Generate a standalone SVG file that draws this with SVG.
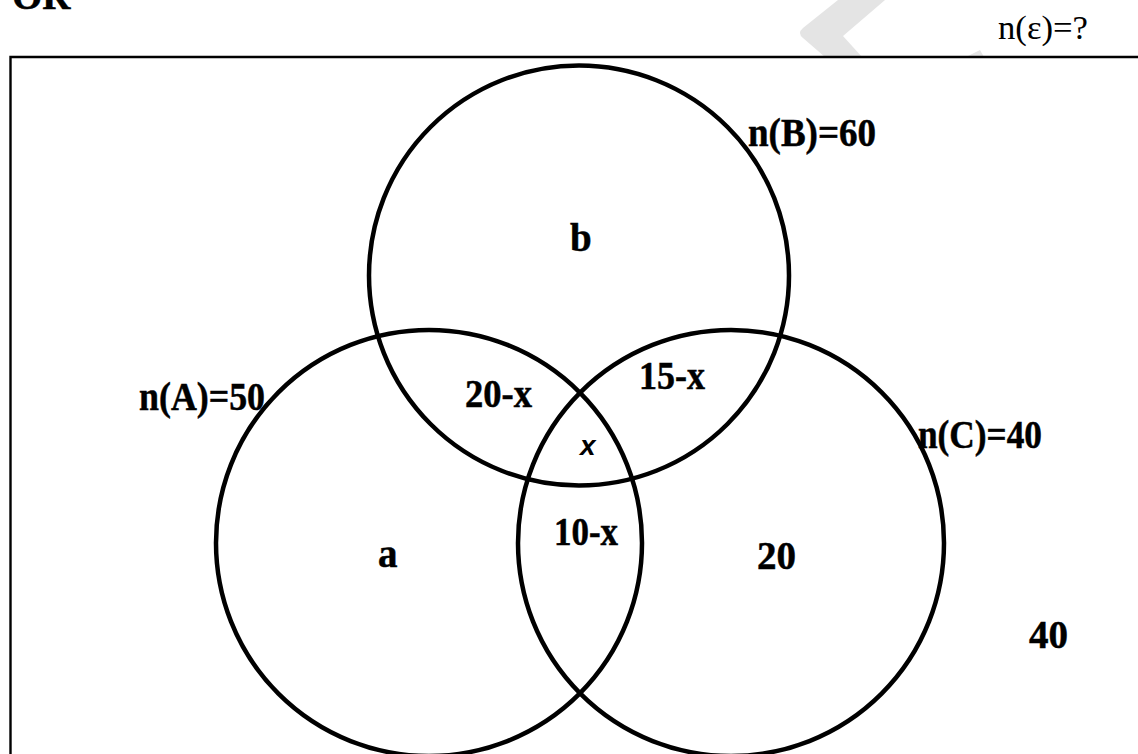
<svg xmlns="http://www.w3.org/2000/svg" width="1138" height="754" viewBox="0 0 1138 754">
  <style>
    .ring { fill: none; stroke: #000; stroke-width: 4.5; }
    .lbl { font-family: "Liberation Serif", "Times New Roman", serif; font-weight: bold; font-size: 39px; fill: #000; stroke: #000; stroke-width: 0.5; }
    .plain { font-family: "Liberation Serif", "Times New Roman", serif; font-size: 33px; fill: #000; }
    .ital { font-family: "Liberation Sans", Arial, sans-serif; font-weight: bold; font-style: italic; font-size: 28px; fill: #000; }
  </style>
  <rect width="1138" height="754" fill="#fff"/>
  <g id="watermark" fill="#e4e4e4">
    <path d="M838,0 L803,28 Q797,33 803,38 L825,57 L862,57 L843,36 L885,0 Z"/>
    <path d="M966,57 L984,57 L980,50 Z"/>
  </g>
  <g id="universe">
    <path d="M10.5,760 V57 H1140" fill="none" stroke="#000" stroke-width="2.4"/>
  </g>
  <text class="lbl" x="12" y="9" font-size="33">OR</text>
  <text class="plain" x="998" y="39" textLength="90" lengthAdjust="spacingAndGlyphs">n(ε)=?</text>
  <g id="set-B">
    <circle class="ring" cx="579" cy="275.5" r="210"/>
    <text class="lbl" x="748" y="146" textLength="128" lengthAdjust="spacingAndGlyphs">n(B)=60</text>
  </g>
  <g id="set-A">
    <circle class="ring" cx="429" cy="543" r="213"/>
    <text class="lbl" x="139" y="410" textLength="126" lengthAdjust="spacingAndGlyphs">n(A)=50</text>
  </g>
  <g id="set-C">
    <circle class="ring" cx="731" cy="543" r="213"/>
    <text class="lbl" x="918" y="448" textLength="124" lengthAdjust="spacingAndGlyphs">n(C)=40</text>
  </g>
  <g id="regions">
    <text class="lbl" x="570" y="251">b</text>
    <text class="lbl" x="378" y="567">a</text>
    <text class="lbl" x="465" y="407" textLength="67" lengthAdjust="spacingAndGlyphs">20-x</text>
    <text class="lbl" x="639" y="389" textLength="66" lengthAdjust="spacingAndGlyphs">15-x</text>
    <text class="ital" x="580" y="455">x</text>
    <text class="lbl" x="554" y="545" textLength="64" lengthAdjust="spacingAndGlyphs">10-x</text>
    <text class="lbl" x="757" y="569">20</text>
    <text class="lbl" x="1029" y="648">40</text>
  </g>
</svg>
